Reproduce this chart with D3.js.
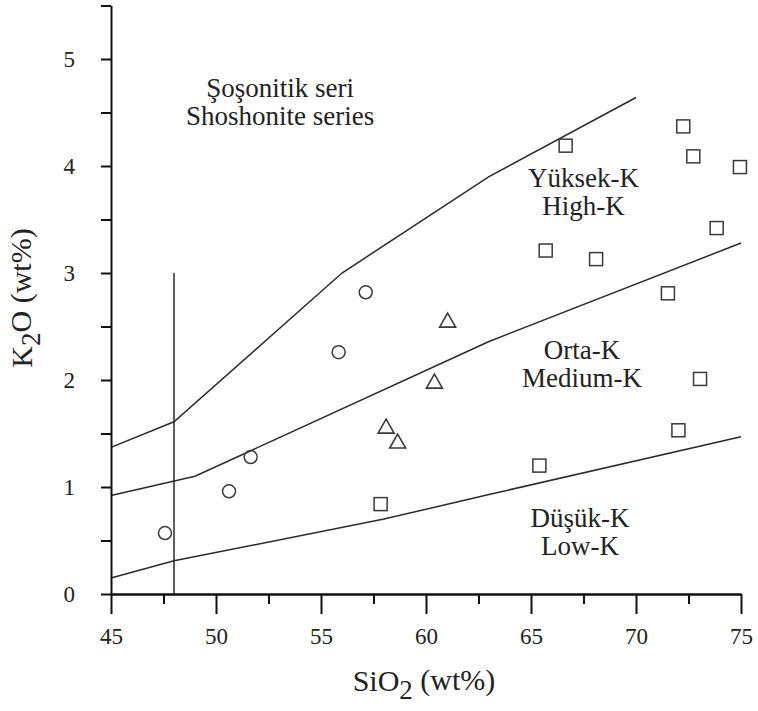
<html><head><meta charset="utf-8">
<script src="https://cdn.jsdelivr.net/npm/d3@7"></script>
<style>svg text { font-family: 'Liberation Serif', monospace; }</style>
</head><body style="margin:0">
<svg id="k2o_chart" width="758" height="711" style="font-family: 'Liberation Serif', monospace"></svg>
<script>
// SiO2 vs K2O classification diagram

// sample points [SiO2, K2O]
var circlePoints = [[47.57, 0.57], [50.62, 0.96], [51.65, 1.28], [55.84, 2.26], [57.13, 2.82]];
var trianglePoints = [[61.03, 2.55], [60.4, 1.98], [58.1, 1.56], [58.65, 1.42]];
var squarePoints = [[57.84, 0.84], [65.4, 1.2], [72.02, 1.53], [73.05, 2.01], [71.52, 2.81], [73.84, 3.42],
    [65.7, 3.21], [68.1, 3.13], [66.65, 4.19], [72.25, 4.37], [72.73, 4.09], [74.95, 3.99]];

// field boundaries
var shoshoniteLine = [[45, 1.37], [48, 1.61], [56, 3.0], [63, 3.9], [70, 4.64]];
var highKLine = [[45, 0.92], [49, 1.1], [52, 1.37], [63, 2.36], [75, 3.28]];
var lowKLine = [[45, 0.15], [48, 0.31], [58, 0.70], [63, 0.93], [75, 1.47]];
var dividerLine = [[48, 0], [48, 3.0]];

// axis ticks
var xMajorTicks = [45, 50, 55, 60, 65, 70, 75];
var xMinorTicks = [47.5, 52.5, 57.5, 62.5, 67.5, 72.5];
var yTicks = [0, 0.5, 1, 1.5, 2, 2.5, 3, 3.5, 4, 4.5, 5, 5.5];

// field names: [line 1, line 2, SiO2 centre, K2O baseline of line 1]
var fieldLabels = [
    ["Şoşonitik seri", "Shoshonite series", 53.05, 4.645],
    ["Yüksek-K", "High-K", 67.5, 3.80],
    ["Orta-K", "Medium-K", 67.43, 2.20],
    ["Düşük-K", "Low-K", 67.33, 0.63]
];

var fam = "Liberation Serif";

var svg = d3.select("#k2o_chart");

var x = d3.scaleLinear().domain([45, 75]).range([111, 741]);
var y = d3.scaleLinear().domain([0, 5.5]).range([594, 5.5]);

var line = d3.line()
    .x(function (d) { return x(d[0]); })
    .y(function (d) { return y(d[1]); });

// boundaries
[shoshoniteLine, highKLine, lowKLine, dividerLine].forEach(function (pts) {
    svg.append("path")
        .attr("d", line(pts))
        .attr("fill", "none")
        .attr("stroke", "#2a2a2a")
        .attr("stroke-width", 1.5);
});

// axes
var xMinor = svg.append("g")
    .attr("transform", "translate(0," + y(0) + ")")
    .call(d3.axisBottom(x).tickValues(xMinorTicks).tickSize(10).tickSizeOuter(0).tickFormat(""));
var xMajor = svg.append("g")
    .attr("transform", "translate(0," + y(0) + ")")
    .call(d3.axisBottom(x).tickValues(xMajorTicks).tickSize(20).tickSizeOuter(0).tickPadding(14));
var yAxis = svg.append("g")
    .attr("transform", "translate(" + x(45) + ",0)")
    .call(d3.axisLeft(y).tickValues(yTicks).tickSize(10).tickSizeOuter(0).tickPadding(26)
        .tickFormat(function (d) { return d % 1 === 0 ? d : ""; }));

[xMinor, xMajor, yAxis].forEach(function (g) {
    g.attr("font-family", null).attr("font-size", null);
    g.selectAll("path, line").attr("stroke", "#111").attr("stroke-width", 2);
    g.selectAll("text")
        .attr("font-size", 23)
        .attr("fill", "#222")
        .style("font-family", "'" + fam + "', monospace");
});

// axis titles
var xTitle = svg.append("text")
    .attr("x", 424)
    .attr("y", 691)
    .attr("text-anchor", "middle")
    .attr("font-size", 30)
    .attr("fill", "#222")
    .style("font-family", "'" + fam + "', monospace");
xTitle.append("tspan").text("SiO");
xTitle.append("tspan").attr("dy", "0.28em").attr("font-size", 27).text("2");
xTitle.append("tspan").attr("dy", "-0.28em").text(" (wt%)");

var yTitle = svg.append("text")
    .attr("transform", "translate(32,298)rotate(-90)")
    .attr("text-anchor", "middle")
    .attr("font-size", 30)
    .attr("fill", "#222")
    .style("font-family", "'" + fam + "', monospace");
yTitle.append("tspan").text("K");
yTitle.append("tspan").attr("dy", "0.28em").attr("font-size", 27).text("2");
yTitle.append("tspan").attr("dy", "-0.28em").text("O (wt%)");

// field names
fieldLabels.forEach(function (d) {
    var t = svg.append("text")
        .attr("text-anchor", "middle")
        .attr("font-size", 27)
        .attr("fill", "#222")
        .style("font-family", "'" + fam + "', monospace");
    t.append("tspan").attr("x", x(d[2])).attr("y", y(d[3])).text(d[0]);
    t.append("tspan").attr("x", x(d[2])).attr("dy", 28).text(d[1]);
});

// markers
var markerStroke = "#3a3a3a";

svg.selectAll(".pt-circle")
    .data(circlePoints)
    .enter().append("circle")
    .attr("class", "pt-circle")
    .attr("cx", function (d) { return x(d[0]); })
    .attr("cy", function (d) { return y(d[1]); })
    .attr("r", 6.5)
    .attr("fill", "none")
    .attr("stroke", markerStroke)
    .attr("stroke-width", 1.5);

svg.selectAll(".pt-tri")
    .data(trianglePoints)
    .enter().append("path")
    .attr("class", "pt-tri")
    .attr("d", function (d) {
        var cx = x(d[0]), cy = y(d[1]);
        return "M" + cx + "," + (cy - 8) + "L" + (cx + 8) + "," + (cy + 6) + "L" + (cx - 8) + "," + (cy + 6) + "Z";
    })
    .attr("fill", "none")
    .attr("stroke", markerStroke)
    .attr("stroke-width", 1.6);

svg.selectAll(".pt-sq")
    .data(squarePoints)
    .enter().append("rect")
    .attr("class", "pt-sq")
    .attr("x", function (d) { return x(d[0]) - 6.5; })
    .attr("y", function (d) { return y(d[1]) - 6.5; })
    .attr("width", 13)
    .attr("height", 13)
    .attr("fill", "none")
    .attr("stroke", markerStroke)
    .attr("stroke-width", 1.5);

svg.selectAll("text").each(function () { this.getComputedTextLength(); });
</script></body></html>
